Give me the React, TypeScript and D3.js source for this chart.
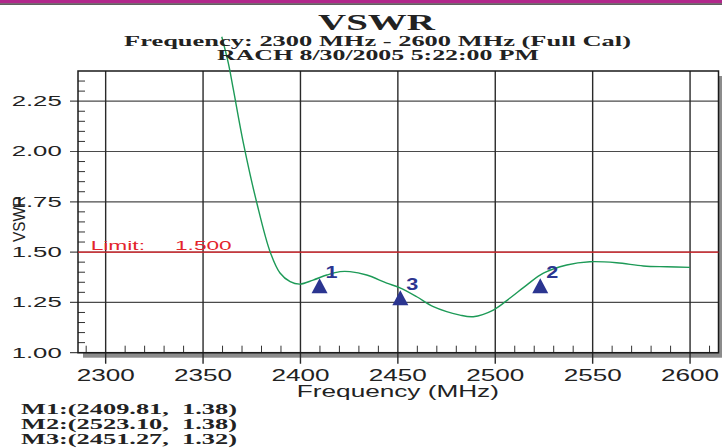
import { useEffect, useRef } from 'react'
import * as d3 from 'd3'

// trace
const freq = [2359.6, 2363.0, 2365.6, 2370.7, 2377.6, 2384.4, 2389.5, 2394.7, 2399.8, 2406.5, 2413.5, 2420.3, 2425.4, 2434.0, 2444.3, 2451.1, 2459.7, 2468.2, 2481.9, 2488.7, 2499.0, 2507.6, 2516.1, 2524.7, 2536.7, 2548.6, 2562.3, 2576.0, 2588.0, 2600]
const vswr = [2.57, 2.438, 2.306, 2.042, 1.744, 1.502, 1.396, 1.353, 1.341, 1.361, 1.386, 1.403, 1.403, 1.386, 1.346, 1.322, 1.278, 1.229, 1.187, 1.179, 1.212, 1.272, 1.336, 1.395, 1.436, 1.452, 1.447, 1.431, 1.427, 1.424]

const markerNames = ['1', '2', '3']
const markerFreq = [2409.81, 2523.1, 2451.27]
const markerVal = [1.38, 1.38, 1.32]

const xTicks = [2300, 2350, 2400, 2450, 2500, 2550, 2600]
const yTicks = [1.0, 1.25, 1.5, 1.75, 2.0, 2.25]
const limit = 1.5

const SANS = '"Liberation Sans", Arial, sans-serif'
const SERIF = '"Liberation Serif", "Times New Roman", serif'

const Chart = () => {
    const ref = useRef<SVGSVGElement | null>(null)

    useEffect(() => {
        if (!ref.current) return
        const width = 722
        const height = 448
        const left = 78, right = 718.5, top = 71, bottom = 352.7

        const svg = d3.select(ref.current)
        svg.selectAll('*').remove()
        svg.attr('width', width).attr('height', height)

        svg.append('rect').attr('width', width).attr('height', height).attr('fill', '#fff')
        // header band
        svg.append('rect').attr('x', 0).attr('y', 0).attr('width', width).attr('height', 3.4).attr('fill', '#b1278b')
        svg.append('rect').attr('x', 0).attr('y', 3.4).attr('width', width).attr('height', 1.4).attr('fill', '#3a3a3a')

        const x = d3.scaleLinear().domain([2285.8, 2614.6]).range([left, right])
        const y = d3.scaleLinear().domain([1, 2.4]).range([bottom, top])

        // drop shadow + plot
        svg.append('rect')
            .attr('x', left + 5).attr('y', top + 5)
            .attr('width', right - left).attr('height', bottom - top)
            .attr('fill', '#8c8c8c')
        svg.append('rect')
            .attr('x', left).attr('y', top)
            .attr('width', right - left).attr('height', bottom - top)
            .attr('fill', '#fff')

        // grid
        svg.append('g').selectAll('line').data(yTicks).join('line')
            .attr('x1', left - 8).attr('x2', right)
            .attr('y1', d => y(d)).attr('y2', d => y(d))
            .attr('stroke', '#4a4a4a').attr('stroke-width', 1.2)
        svg.append('g').selectAll('line').data(xTicks).join('line')
            .attr('x1', d => x(d)).attr('x2', d => x(d))
            .attr('y1', top).attr('y2', bottom + 11)
            .attr('stroke', '#2a2a2a').attr('stroke-width', 1.4)

        // minor ticks
        const xMinor = d3.range(2290, 2611, 10).filter(d => d % 50 !== 0)
        svg.append('g').selectAll('line').data(xMinor).join('line')
            .attr('x1', d => x(d)).attr('x2', d => x(d))
            .attr('y1', bottom - 7).attr('y2', bottom)
            .attr('stroke', '#333').attr('stroke-width', 1)
        const yMinor = d3.range(1.05, 2.36, 0.05).filter(d => Math.abs(d * 4 - Math.round(d * 4)) > 0.01)
        svg.append('g').selectAll('line').data(yMinor).join('line')
            .attr('x1', left).attr('x2', left + 7)
            .attr('y1', d => y(d)).attr('y2', d => y(d))
            .attr('stroke', '#333').attr('stroke-width', 1)

        svg.append('rect')
            .attr('x', left).attr('y', top)
            .attr('width', right - left).attr('height', bottom - top)
            .attr('fill', 'none').attr('stroke', '#1a1a1a').attr('stroke-width', 1.5)

        // tick labels
        svg.append('g').selectAll('text').data(yTicks).join('text')
            .attr('x', 61.7).attr('y', d => y(d) + 5)
            .attr('text-anchor', 'end')
            .attr('font-family', SANS).attr('font-size', 14).attr('fill', '#222')
            .attr('textLength', 50).attr('lengthAdjust', 'spacingAndGlyphs')
            .text(d => d.toFixed(2))
        svg.append('g').selectAll('text').data(xTicks).join('text')
            .attr('x', d => x(d)).attr('y', 380.7)
            .attr('text-anchor', 'middle')
            .attr('font-family', SANS).attr('font-size', 16).attr('fill', '#222')
            .attr('textLength', 58).attr('lengthAdjust', 'spacingAndGlyphs')
            .text(d => d)

        svg.append('text')
            .attr('x', x(2450)).attr('y', 397)
            .attr('text-anchor', 'middle')
            .attr('font-family', SANS).attr('font-size', 16).attr('fill', '#222')
            .attr('textLength', 202).attr('lengthAdjust', 'spacingAndGlyphs')
            .text('Frequency (MHz)')
        svg.append('text')
            .attr('transform', 'translate(25,219) rotate(-90)')
            .attr('text-anchor', 'middle')
            .attr('font-family', SANS).attr('font-size', 16).attr('fill', '#222')
            .attr('textLength', 46).attr('lengthAdjust', 'spacingAndGlyphs')
            .text('VSWR')

        // limit
        svg.append('line')
            .attr('x1', left).attr('x2', right)
            .attr('y1', y(limit)).attr('y2', y(limit))
            .attr('stroke', '#e3242b').attr('stroke-width', 1.3)
        svg.append('text')
            .attr('x', 90.7).attr('y', 250)
            .attr('font-family', SANS).attr('font-size', 13).attr('fill', '#e3242b')
            .attr('textLength', 54.3).attr('lengthAdjust', 'spacingAndGlyphs')
            .text('Limit:')
        svg.append('text')
            .attr('x', 175).attr('y', 250)
            .attr('font-family', SANS).attr('font-size', 13).attr('fill', '#e3242b')
            .attr('textLength', 56.7).attr('lengthAdjust', 'spacingAndGlyphs')
            .text(limit.toFixed(3))

        // trace
        const pts = freq.map((f, i) => [f, vswr[i]] as [number, number])
        const line = d3.line<[number, number]>()
            .x(d => x(d[0])).y(d => y(d[1]))
            .curve(d3.curveCatmullRom.alpha(0.5))
        svg.append('path')
            .attr('d', line(pts))
            .attr('fill', 'none').attr('stroke', '#1d9a57').attr('stroke-width', 1.4)

        // markers
        const mk = svg.append('g')
        markerNames.forEach((name, i) => {
            const cx = x(markerFreq[i])
            const ay = y(markerVal[i]) + 2
            mk.append('path')
                .attr('d', `M${cx},${ay}L${cx + 8},${ay + 15}L${cx - 8},${ay + 15}Z`)
                .attr('fill', '#2b3590')
            mk.append('text')
                .attr('x', cx + 6).attr('y', ay)
                .attr('font-family', SANS).attr('font-size', 16).attr('font-weight', 'bold')
                .attr('fill', '#2b3590')
                .attr('transform', `translate(${cx + 6},0) scale(1.35,1) translate(${-(cx + 6)},0)`)
                .text(name)
        })

        // titles
        const titles: [string, number, number, number, number][] = [
            ['VSWR', 376.5, 29.5, 23, 117],
            ['Frequency: 2300 MHz - 2600 MHz (Full Cal)', 377.5, 45.5, 14, 507],
            ['RACH 8/30/2005 5:22:00 PM', 378, 59.5, 14, 322],
        ]
        titles.forEach(([t, tx, ty, fs, w]) => {
            svg.append('text')
                .attr('x', tx).attr('y', ty)
                .attr('text-anchor', 'middle')
                .attr('font-family', SERIF).attr('font-weight', 'bold')
                .attr('font-size', fs).attr('fill', '#222')
                .attr('textLength', w).attr('lengthAdjust', 'spacingAndGlyphs')
                .text(t)
        })

        // marker readout
        markerNames.forEach((name, i) => {
            svg.append('text')
                .attr('x', 21).attr('y', 413.5 + i * 15)
                .attr('font-family', SERIF).attr('font-weight', 'bold')
                .attr('font-size', 15).attr('fill', '#222')
                .attr('textLength', 216).attr('lengthAdjust', 'spacingAndGlyphs')
                .style('white-space', 'pre')
                .text(`M${name}:(${markerFreq[i].toFixed(2)},  ${markerVal[i].toFixed(2)})`)
        })
    }, [])

    return <svg ref={ref} style={{ position: 'absolute', left: 0, top: 0 }}></svg>
}

export default function App() {
    return <Chart />
}
